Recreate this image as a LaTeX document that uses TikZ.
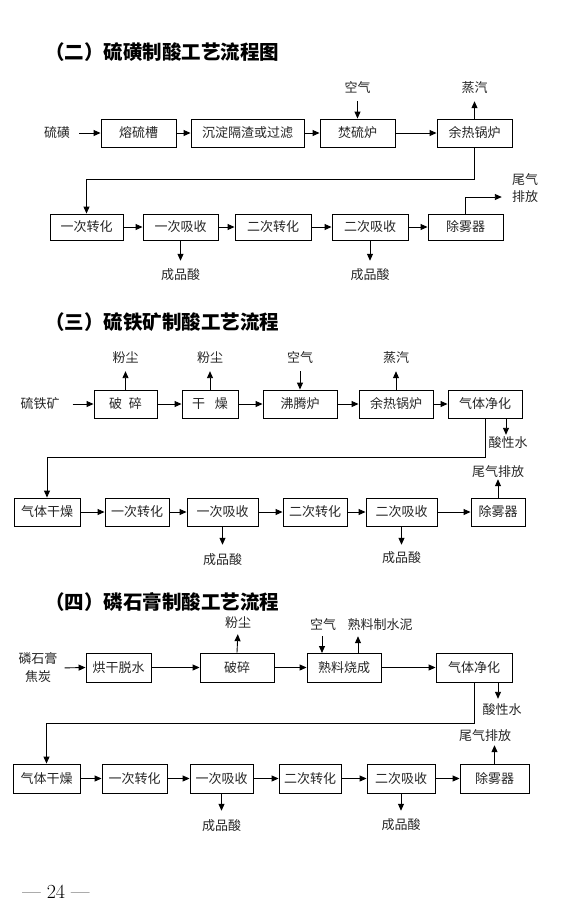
\documentclass[tikz,border=0pt]{standalone}
\usepackage{fontspec}
\newfontfamily\cjk{Noto Sans CJK SC}
\usetikzlibrary{arrows.meta}
\tikzset{
 bx/.style={draw, line width=0.9pt, inner sep=0pt, minimum height=28pt, font=\cjk\fontsize{13}{15}\selectfont, text=black!85},
 lbl/.style={inner sep=1pt, font=\cjk\fontsize{13}{15}\selectfont, text=black!85},
 ttl/.style={anchor=west, inner sep=0pt, font=\cjk\bfseries\fontsize{19.5}{22}\selectfont},
 arr/.style={line width=0.9pt, -{Triangle[length=7pt,width=6pt]}},
 ln/.style={line width=0.9pt}
}
\begin{document}
\begin{tikzpicture}[x=1pt,y=-1pt]
\useasboundingbox (0,0) rectangle (576,922);

% ---------------- Section 2 ----------------
\node[ttl] (title1) at (45,52) {（二）硫磺制酸工艺流程图};
\node[lbl] (s1in) at (57,133) {硫磺};
\node[bx, minimum width=75pt] (b11) at (138.5,133) {熔硫槽};
\node[bx, minimum width=113pt] (b12) at (247.5,133) {沉淀隔渣或过滤};
\node[bx, minimum width=75pt] (b13) at (357.5,133) {焚硫炉};
\node[bx, minimum width=75pt] (b14) at (474.5,133) {余热锅炉};
\node[lbl] (air1) at (357.5,88) {空气};
\node[lbl] (steam1) at (474.5,88) {蒸汽};
\draw[arr, shorten <=8pt] (s1in.east) -- (b11.west);
\draw[arr] (b11.east) -- (b12.west);
\draw[arr] (b12.east) -- (b13.west);
\draw[arr] (b13.east) -- (b14.west);
\draw[arr, shorten <=6pt] (air1.south) -- (b13.north);
\draw[arr, shorten >=6pt] (b14.north) -- (steam1.south);

\node[bx, minimum width=73pt, minimum height=26pt] (b21) at (86.5,227) {一次转化};
\node[bx, minimum width=75pt, minimum height=26pt] (b22) at (180.5,227) {一次吸收};
\node[bx, minimum width=76pt, minimum height=26pt] (b23) at (273,227) {二次转化};
\node[bx, minimum width=76pt, minimum height=26pt] (b24) at (370,227) {二次吸收};
\node[bx, minimum width=75pt, minimum height=26pt] (b25) at (465.5,227) {除雾器};
\coordinate (c1) at (474.5,179);
\draw[arr] (b14.south) -- (c1) -| (b21.north);
\draw[arr] (b21.east) -- (b22.west);
\draw[arr] (b22.east) -- (b23.west);
\draw[arr] (b23.east) -- (b24.west);
\draw[arr] (b24.east) -- (b25.west);
\node[lbl] (acid1) at (180.5,275) {成品酸};
\node[lbl] (acid2) at (370,275) {成品酸};
\draw[arr, shorten >=7pt] (b22.south) -- (acid1.north);
\draw[arr, shorten >=7pt] (b24.south) -- (acid2.north);
\node[lbl] (tail1a) at (525,180) {尾气};
\node[lbl] (tail1b) at (525,197) {排放};
\draw[arr, shorten >=9pt] (b25.north) |- (tail1b.west);

% ---------------- Section 3 ----------------
\node[ttl] (title2) at (45,322) {（三）硫铁矿制酸工艺流程};
\node[lbl] (ore) at (40,404) {硫铁矿};
\node[bx, minimum width=63pt] (c11) at (125.5,404) {破\hspace{7pt}碎};
\node[bx, minimum width=56pt] (c12) at (210,404) {干\hspace{10pt}燥};
\node[bx, minimum width=74pt] (c13) at (300,404) {沸腾炉};
\node[bx, minimum width=74pt] (c14) at (396,404) {余热锅炉};
\node[bx, minimum width=74pt] (c15) at (485,404) {气体净化};
\node[lbl] (dust1) at (125.5,358) {粉尘};
\node[lbl] (dust2) at (210,358) {粉尘};
\node[lbl] (air2) at (300,358) {空气};
\node[lbl] (steam2) at (396,358) {蒸汽};
\node[lbl] (acidw1) at (508,443) {酸性水};
\draw[arr, shorten <=12pt] (ore.east) -- (c11.west);
\draw[arr] (c11.east) -- (c12.west);
\draw[arr] (c12.east) -- (c13.west);
\draw[arr] (c13.east) -- (c14.west);
\draw[arr] (c14.east) -- (c15.west);
\draw[arr, shorten >=6pt] (c11.north) -- (dust1.south);
\draw[arr, shorten >=6pt] (c12.north) -- (dust2.south);
\draw[arr, shorten <=6pt] (air2.south) -- (c13.north);
\draw[arr, shorten >=6pt] (c14.north) -- (steam2.south);
\coordinate (c15d) at (506,418);
\draw[arr, shorten >=1pt] (c15d) -- (c15d |- acidw1.north);

\node[bx, minimum width=66pt] (d1) at (47,512) {气体干燥};
\node[bx, minimum width=64pt] (d2) at (137,512) {一次转化};
\node[bx, minimum width=71pt] (d3) at (222.5,512) {一次吸收};
\node[bx, minimum width=64pt] (d4) at (315,512) {二次转化};
\node[bx, minimum width=71pt] (d5) at (401.5,512) {二次吸收};
\node[bx, minimum width=54pt] (d6) at (498,512) {除雾器};
\coordinate (c2) at (485,457);
\draw[arr] (c15.south) -- (c2) -| (d1.north);
\draw[arr] (d1.east) -- (d2.west);
\draw[arr] (d2.east) -- (d3.west);
\draw[arr] (d3.east) -- (d4.west);
\draw[arr] (d4.east) -- (d5.west);
\draw[arr] (d5.east) -- (d6.west);
\node[lbl] (tail2) at (498,472) {尾气排放};
\draw[arr, shorten >=0pt] (d6.north) -- (tail2.south);
\node[lbl] (acid3) at (222.5,560) {成品酸};
\node[lbl] (acid4) at (401.5,558) {成品酸};
\draw[arr, shorten >=8pt] (d3.south) -- (acid3.north);
\draw[arr, shorten >=6pt] (d5.south) -- (acid4.north);

% ---------------- Section 4 ----------------
\node[ttl] (title3) at (45,602) {（四）磷石膏制酸工艺流程};
\node[lbl, align=center] (in3) at (38,668) {磷石膏\\[3pt]焦炭};
\node[bx, minimum width=65pt, minimum height=29pt] (e1) at (118.5,667.5) {烘干脱水};
\node[bx, minimum width=74pt, minimum height=29pt] (e2) at (237,667.5) {破碎};
\node[bx, minimum width=74pt, minimum height=29pt] (e3) at (344,667.5) {熟料烧成};
\node[bx, minimum width=76pt, minimum height=29pt] (e4) at (474,667.5) {气体净化};
\node[lbl] (dust3) at (238,623) {粉尘};
\node[lbl] (air3) at (323,625) {空气};
\node[lbl] (clink) at (380,625) {熟料制水泥};
\node[lbl] (acidw2) at (502,710) {酸性水};
\draw[arr, shorten <=6pt] (in3.east) -- (e1.west);
\draw[arr] (e1.east) -- (e2.west);
\draw[arr] (e2.east) -- (e3.west);
\draw[arr] (e3.east) -- (e4.west);
\draw[arr, shorten >=4pt] (e2.north) -- (dust3.south);
\coordinate (e3a) at (322,653);
\coordinate (e3b) at (358,653);
\draw[arr, shorten <=4pt] (e3a |- air3.south) -- (e3a);
\draw[arr, shorten >=4pt] (e3b) -- (e3b |- clink.south);
\coordinate (e4d) at (498,682);
\draw[arr, shorten >=4pt] (e4d) -- (e4d |- acidw2.north);

\node[bx, minimum width=67pt, minimum height=29pt] (f1) at (46.5,778.5) {气体干燥};
\node[bx, minimum width=65pt, minimum height=29pt] (f2) at (134.5,778.5) {一次转化};
\node[bx, minimum width=63pt, minimum height=29pt] (f3) at (221.5,778.5) {一次吸收};
\node[bx, minimum width=62pt, minimum height=29pt] (f4) at (310,778.5) {二次转化};
\node[bx, minimum width=68pt, minimum height=29pt] (f5) at (401,778.5) {二次吸收};
\node[bx, minimum width=69pt, minimum height=29pt] (f6) at (494.5,778.5) {除雾器};
\coordinate (c3) at (474,723);
\draw[arr] (e4.south) -- (c3) -| (f1.north);
\draw[arr] (f1.east) -- (f2.west);
\draw[arr] (f2.east) -- (f3.west);
\draw[arr] (f3.east) -- (f4.west);
\draw[arr] (f4.east) -- (f5.west);
\draw[arr] (f5.east) -- (f6.west);
\node[lbl] (tail3) at (485,736) {尾气排放};
\draw[arr, shorten >=2pt] (f6.north) -- (f6.north |- tail3.south);
\node[lbl] (acid5) at (221.5,826) {成品酸};
\node[lbl] (acid6) at (401,825) {成品酸};
\draw[arr, shorten >=8pt] (f3.south) -- (acid5.north);
\draw[arr, shorten >=7pt] (f5.south) -- (acid6.north);

\node[inner sep=0pt, font=\fontsize{20}{22}\selectfont, text=black] (page) at (56,892) {— 24 —};
\end{tikzpicture}
\end{document}
